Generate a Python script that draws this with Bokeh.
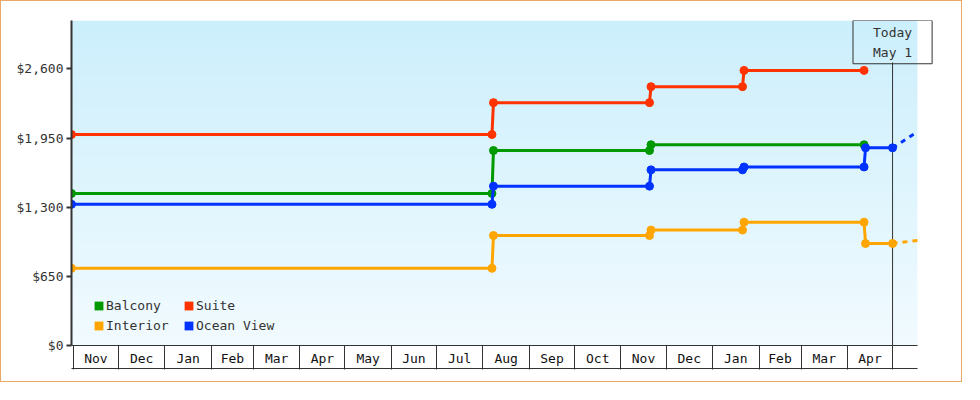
import numpy as np
import pandas as pd
from bokeh.plotting import figure
from bokeh.models import (Range1d, FixedTicker, DatetimeTickFormatter, NumeralTickFormatter,
                          Legend, LegendItem, Label, DatetimeAxis)
from bokeh.embed import file_html
from bokeh.resources import INLINE

FONT = "DejaVu Sans Mono"

# ---------------- data ----------------
x_start = "2012-10-30T18:00"
x_end = "2014-05-17T14:00"
x_view_end = "2014-05-28T07:00"
today = "2014-05-01"
today_text = "Today\nMay 1"

y_max = 3055
y_ticks = [0, 650, 1300, 1950, 2600]

month_starts = ["2012-11-01", "2012-12-01", "2013-01-01", "2013-02-01", "2013-03-01",
                "2013-04-01", "2013-05-01", "2013-06-01", "2013-07-01", "2013-08-01",
                "2013-09-01", "2013-10-01", "2013-11-01", "2013-12-01", "2014-01-01",
                "2014-02-01", "2014-03-01", "2014-04-01", "2014-05-01"]

balcony_dates = [x_start, "2013-08-07", "2013-08-08", "2013-11-20", "2013-11-21", "2014-04-12"]
balcony_prices = [1429, 1429, 1833, 1833, 1887, 1887]

suite_dates = [x_start, "2013-08-07", "2013-08-08", "2013-11-20", "2013-11-21",
               "2014-01-21", "2014-01-22", "2014-04-12"]
suite_prices = [1983, 1983, 2283, 2283, 2433, 2433, 2586, 2586]

interior_dates = [x_start, "2013-08-07", "2013-08-08", "2013-11-20", "2013-11-21",
                  "2014-01-21", "2014-01-22", "2014-04-12", "2014-04-13", "2014-05-01"]
interior_prices = [725, 725, 1034, 1034, 1085, 1085, 1159, 1159, 959, 959]

ocean_dates = [x_start, "2013-08-07", "2013-08-08", "2013-11-20", "2013-11-21",
               "2014-01-21", "2014-01-22", "2014-04-12", "2014-04-13", "2014-05-01"]
ocean_prices = [1327, 1327, 1498, 1498, 1651, 1651, 1678, 1678, 1858, 1858]

forecast_dates = ["2014-05-01", x_end]
interior_forecast = [959, 988]
ocean_forecast = [1858, 2008]

series = [
    ("Balcony", "#009900", balcony_dates, balcony_prices, None, None),
    ("Suite", "#ff3300", suite_dates, suite_prices, None, None),
    ("Interior", "#ffa500", interior_dates, interior_prices, forecast_dates, interior_forecast),
    ("Ocean View", "#0033ff", ocean_dates, ocean_prices, forecast_dates, ocean_forecast),
]

# ---------------- figure ----------------
W, H = 962, 382
MB_L, MB_R, MB_T, MB_B = 70, 30, 19, 38
FRAME_H = H - MB_T - MB_B
LINE = "#333333"

def ts(d):
    return pd.to_datetime(d, format="ISO8601")

def ms(d):
    return ts(d).value / 1e6

p = figure(width=W, height=H, x_axis_type="datetime", output_backend="svg",
           toolbar_location=None, x_range=Range1d(ts(x_start), ts(x_view_end)),
           y_range=Range1d(0, y_max),
           min_border_left=MB_L, min_border_right=MB_R, min_border_top=MB_T,
           min_border_bottom=MB_B, background_fill_color="white", border_fill_color="white")
p.outline_line_color = None
p.grid.visible = False
p.styles = {"border": "1px solid #e8a866"}

# gradient background
n = 256
img = np.empty((n, 1), dtype=np.uint32)
view = img.view(dtype=np.uint8).reshape((n, 1, 4))
bot = np.array([242, 251, 255])
top = np.array([204, 239, 252])
for i in range(n):
    t = i / (n - 1)
    c = bot + (top - bot) * t
    view[i, 0, :3] = c.astype(np.uint8)
    view[i, 0, 3] = 255
p.image_rgba(image=[img], x=ms(x_start), y=0, dw=ms(x_end) - ms(x_start), dh=y_max, level="image")

# today line (ends at the bottom of the Today box)
box_px = 42
p.segment(x0=[ts(today)], y0=[0], x1=[ts(today)],
          y1=[y_max - box_px * y_max / FRAME_H], line_color=LINE, line_width=1)

items = []
for name, color, dates, prices, fd, fp in series:
    xs = pd.to_datetime(dates, format="ISO8601")
    p.line(xs, prices, line_color=color, line_width=3)
    p.scatter(xs, prices, marker="circle", size=8, fill_color=color, line_color=color)
    if fd is not None:
        p.line(pd.to_datetime(fd, format="ISO8601"), fp, line_color=color, line_width=3,
               line_dash="5 5")
    proxy = p.quad(left=[np.nan], right=[np.nan], top=[np.nan], bottom=[np.nan],
                   fill_color=color, line_color=None)
    items.append(LegendItem(label=name, renderers=[proxy]))

legend = Legend(items=items, location=(22, 10), orientation="horizontal", ncols=2,
                margin=0, padding=0, spacing=0, glyph_width=11, glyph_height=11,
                label_standoff=2, label_width=77, label_height=20,
                label_text_font=FONT, label_text_font_size="13px", label_text_color=LINE,
                border_line_color=None, background_fill_alpha=0)
p.add_layout(legend)

# y axis
ya = p.yaxis[0]
ya.ticker = FixedTicker(ticks=y_ticks)
ya.formatter = NumeralTickFormatter(format="$0,0")
ya.axis_line_color = LINE
ya.axis_line_width = 2
ya.major_tick_line_color = LINE
ya.major_tick_line_width = 2
ya.major_tick_out = 5
ya.major_tick_in = 0
ya.minor_tick_line_color = None
ya.major_label_standoff = 3
ya.major_label_text_font = FONT
ya.major_label_text_font_size = "13px"
ya.major_label_text_color = LINE

# x axis: month boxes (top line, separators, labels)
starts = [ms(s) for s in month_starts]
mids = [a + (b - a) / 2 for a, b in zip(starts[:-1], starts[1:])]
xa = p.xaxis[0]
xa.bounds = (ts(x_start), ts(x_end))
xa.ticker = FixedTicker(ticks=mids, minor_ticks=starts)
fmt = "%b"
xa.formatter = DatetimeTickFormatter(microseconds=fmt, milliseconds=fmt, seconds=fmt, minsec=fmt,
                                     minutes=fmt, hourmin=fmt, hours=fmt, days=fmt,
                                     months=fmt, years=fmt)
xa.axis_line_color = LINE
xa.axis_line_width = 1
xa.major_tick_line_color = None
xa.major_tick_out = 0
xa.major_tick_in = 0
xa.minor_tick_line_color = LINE
xa.minor_tick_line_width = 1
xa.minor_tick_out = 24
xa.minor_tick_in = 0
xa.major_label_standoff = -19
xa.major_label_text_font = FONT
xa.major_label_text_font_size = "13px"
xa.major_label_text_color = "#111111"

# bottom line of the month boxes
xb = DatetimeAxis(ticker=FixedTicker(ticks=[]), bounds=(ts(x_start), ts(x_end)),
                  axis_line_color=LINE, axis_line_width=1,
                  major_tick_out=0, major_tick_in=0, minor_tick_out=0, minor_tick_in=0,
                  major_label_standoff=0, major_label_text_font_size="1px")
p.add_layout(xb, "below")

p.add_layout(Label(x=ms(today), y=y_max, x_units="data", y_units="data", text=today_text,
                   anchor="top_center", text_align="right", text_font=FONT,
                   text_font_size="13px", text_color=LINE, text_line_height=1.35,
                   border_line_color=LINE, border_line_width=1,
                   padding=dict(left=20, right=20, top=4, bottom=4)))

open("out.html", "w").write(file_html(p, INLINE))
